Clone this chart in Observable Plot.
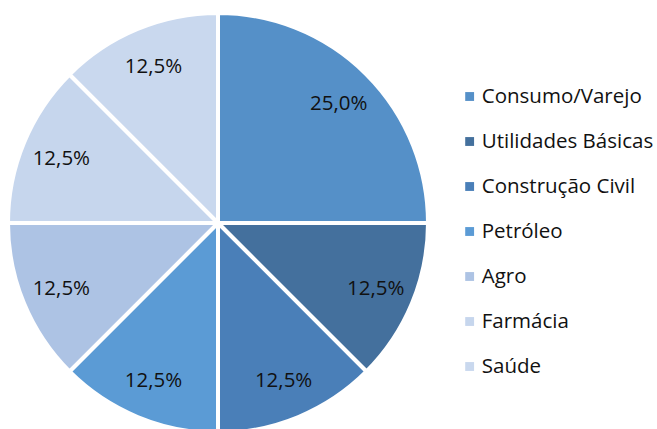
<!DOCTYPE html>
<html><head><meta charset="utf-8">
<script src="https://cdn.jsdelivr.net/npm/d3@7"></script>
<script src="https://cdn.jsdelivr.net/npm/@observablehq/plot@0.6"></script>
<style>
html,body{margin:0;padding:0;background:#fff;}
#wrap{position:relative;width:657px;height:429px;overflow:hidden;font-family:"Open Sans",sans-serif;}
#pie{position:absolute;left:0;top:0;}
#leg{position:absolute;left:455px;top:70px;}
</style></head>
<body><div id="wrap"><div id="pie"></div><div id="leg"></div></div>
<script>
const categories = ["Consumo/Varejo","Utilidades Básicas","Construção Civil","Petróleo","Agro","Farmácia","Saúde"];
const values = [25.0,12.5,12.5,12.5,12.5,12.5,12.5];
const labels = ["25,0%","12,5%","12,5%","12,5%","12,5%","12,5%","12,5%"];
const colors = ["#5590c8","#44709d","#4a7fb8","#5b9bd5","#adc3e4","#c6d6ed","#c9d8ee"];

const data = categories.map((c,i)=>({category:c, value:values[i], label:labels[i], color:colors[i]}));
const arcs = d3.pie().sort(null).value(d=>d.value)(data);
const labelR = 0.81;
const labelData = arcs.map(a=>{
  const m=(a.startAngle+a.endAngle)/2;
  return {label:a.data.label, x:labelR*Math.sin(m), y:labelR*Math.cos(m)};
});

function pieMark(index, scales){
  const x=scales.x, y=scales.y;
  const cx=x(0), cy=y(0), r=x(1)-x(0);
  const g=d3.create("svg:g");
  const arc=d3.arc().innerRadius(0).outerRadius(r);
  g.selectAll("path").data(arcs).join("path")
    .attr("transform",`translate(${cx},${cy})`)
    .attr("d",arc)
    .attr("fill",d=>d.data.color)
    .attr("stroke","#fff").attr("stroke-width",4).attr("stroke-linejoin","miter");
  return g.node();
}

const pie = Plot.plot({
  width:657, height:429,
  margin:0,
  x:{domain:[-1,1], range:[8,428], axis:null},
  y:{domain:[-1,1], range:[433,13], axis:null},
  style:{fontFamily:"'Open Sans', sans-serif", background:"transparent"},
  marks:[
    pieMark,
    Plot.text(labelData,{x:"x", y:"y", text:"label", fontSize:20.5, fill:"#111"})
  ]
});
document.getElementById("pie").appendChild(pie);

const legend = Plot.plot({
  width:202, height:320,
  margin:0,
  x:{domain:[0,1], range:[0,202], axis:null},
  y:{type:"point", domain:categories, range:[26,296], padding:0, axis:null},
  color:{domain:categories, range:colors},
  style:{fontFamily:"'Open Sans', sans-serif", background:"transparent"},
  marks:[
    Plot.dot(data,{x:()=>0.07, y:"category", fill:"category", symbol:"square", r:5}),
    Plot.text(data,{x:()=>0.13, y:"category", text:"category", textAnchor:"start", fontSize:20.5, fill:"#111"})
  ]
});
document.getElementById("leg").appendChild(legend);
</script></body></html>
